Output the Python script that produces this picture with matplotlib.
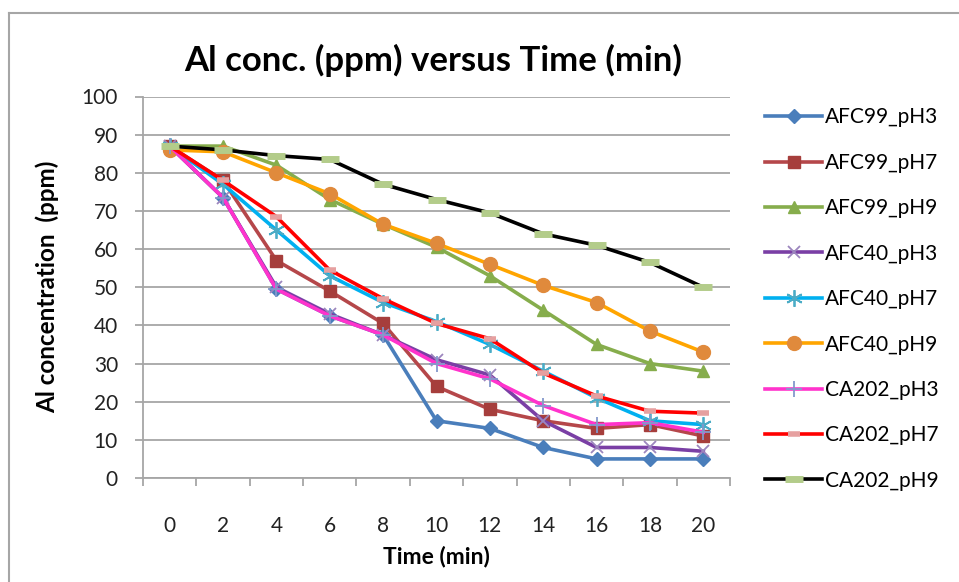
import matplotlib.pyplot as plt
from matplotlib.lines import Line2D

# time points (min) shown as evenly spaced categories
time_min = [0, 2, 4, 6, 8, 10, 12, 14, 16, 18, 20]

# Al concentration (ppm) for each sample
afc99_ph3 = [87, 73.5, 49.5, 42.5, 37.5, 15, 13, 8, 5, 5, 5]
afc99_ph7 = [87, 78, 57, 49, 40.5, 24, 18, 15, 13, 14, 11]
afc99_ph9 = [87, 87, 82, 73, 66.5, 60.5, 53, 44, 35, 30, 28]
afc40_ph3 = [87, 73.5, 50, 43, 37.5, 31, 27, 15, 8, 8, 7]
afc40_ph7 = [87, 77, 65, 53, 46, 41, 35, 28, 21, 15, 14]
afc40_ph9 = [86, 85.5, 80, 74.5, 66.5, 61.5, 56, 50.5, 46, 38.5, 33]
ca202_ph3 = [87, 73.5, 49.5, 42.5, 37.5, 30, 26, 19, 14, 14.5, 12]
ca202_ph7 = [87, 78, 68.5, 54.5, 47, 40.5, 36.5, 27.5, 21.5, 17.5, 17]
ca202_ph9 = [87, 86, 84.5, 83.5, 77, 73, 69.5, 64, 61, 56.5, 50]

series_names = ['AFC99_pH3', 'AFC99_pH7', 'AFC99_pH9', 'AFC40_pH3', 'AFC40_pH7',
                'AFC40_pH9', 'CA202_pH3', 'CA202_pH7', 'CA202_pH9']
series_data = [afc99_ph3, afc99_ph7, afc99_ph9, afc40_ph3, afc40_ph7,
               afc40_ph9, ca202_ph3, ca202_ph7, ca202_ph9]

# line colour, marker, marker colour, marker size, marker edge width
styles = [
    ('#4A7EBB', 'D', '#4A7EBB', 7, 1),
    ('#B5474A', 's', '#A63E3C', 8, 1),
    ('#86AD4C', '^', '#86AD4C', 9, 1),
    ('#7A3FA5', 'x', '#9C86BE', 9, 1.3),
    ('#00B0F0', (6, 2, 0), '#4BACC6', 12, 1.3),
    ('#FFA500', 'o', '#E08A3C', 10, 1),
    ('#FF33CC', '+', '#8399CC', 12, 1.3),
    ('#FF0000', '_', '#E6A0A0', 8, 4),
    ('#000000', '_', '#B3CC8A', 13, 5),
]

plt.rcParams['font.family'] = ['Lato', 'DejaVu Sans']

fig = plt.figure(figsize=(9.59, 5.82), dpi=100)
ax = fig.add_axes([143 / 959, 1 - 478 / 582, (730 - 143) / 959, (478 - 96.5) / 582])

x = list(range(len(time_min)))
handles = []
for name, vals, (lc, mk, mc, ms, mew) in zip(series_names, series_data, styles):
    line, = ax.plot(x, vals, color=lc, lw=2.6, marker=mk, markersize=ms,
                    markerfacecolor=mc, markeredgecolor=mc, markeredgewidth=mew,
                    label=name, zorder=3)
    handles.append(line)

ax.set_xlim(-0.5, len(time_min) - 0.5)
ax.set_ylim(0, 100)
ax.set_yticks(range(0, 101, 10))
ax.set_xticks(x)
ax.set_xticklabels([str(t) for t in time_min])
ax.set_xticks([i - 0.5 for i in range(len(time_min) + 1)], minor=True)

ax.grid(axis='y', color='#A6A6A6', lw=1.3, zorder=0)
ax.set_axisbelow(True)
for side in ['top', 'right']:
    ax.spines[side].set_visible(False)
for side in ['left', 'bottom']:
    ax.spines[side].set_color('#A6A6A6')
    ax.spines[side].set_linewidth(1.3)

ax.tick_params(axis='y', length=6, width=1.3, color='#A6A6A6', pad=12,
               labelsize=15, labelcolor='#222222')
ax.tick_params(axis='x', which='major', length=0, pad=27,
               labelsize=15, labelcolor='#222222')
ax.tick_params(axis='x', which='minor', length=6, width=1.3, color='#A6A6A6')

ax.set_xlabel('Time (min)', fontsize=16.5, fontweight='bold', labelpad=7)
ax.set_ylabel('Al concentration  (ppm)', fontsize=17.5, fontweight='bold', labelpad=16)
fig.text(433 / 959, 1 - 60 / 582, 'Al conc. (ppm) versus Time (min)',
         fontsize=25, fontweight='bold', ha='center', va='center')

ax.legend(handles=handles, loc='upper left', bbox_to_anchor=(755 / 959, 1 - 97 / 582),
          bbox_transform=fig.transFigure, frameon=False, fontsize=15,
          handlelength=2.7, handletextpad=0.15, labelspacing=1.22, borderpad=0)

# chart area border as seen in the spreadsheet
fig.add_artist(Line2D([9 / 959, 9 / 959], [0, 1 - 13 / 582], color='#A6A6A6', lw=1.5))
fig.add_artist(Line2D([9 / 959, 1], [1 - 13 / 582, 1 - 13 / 582], color='#A6A6A6', lw=1.5))

plt.savefig('out.png', dpi=100)
